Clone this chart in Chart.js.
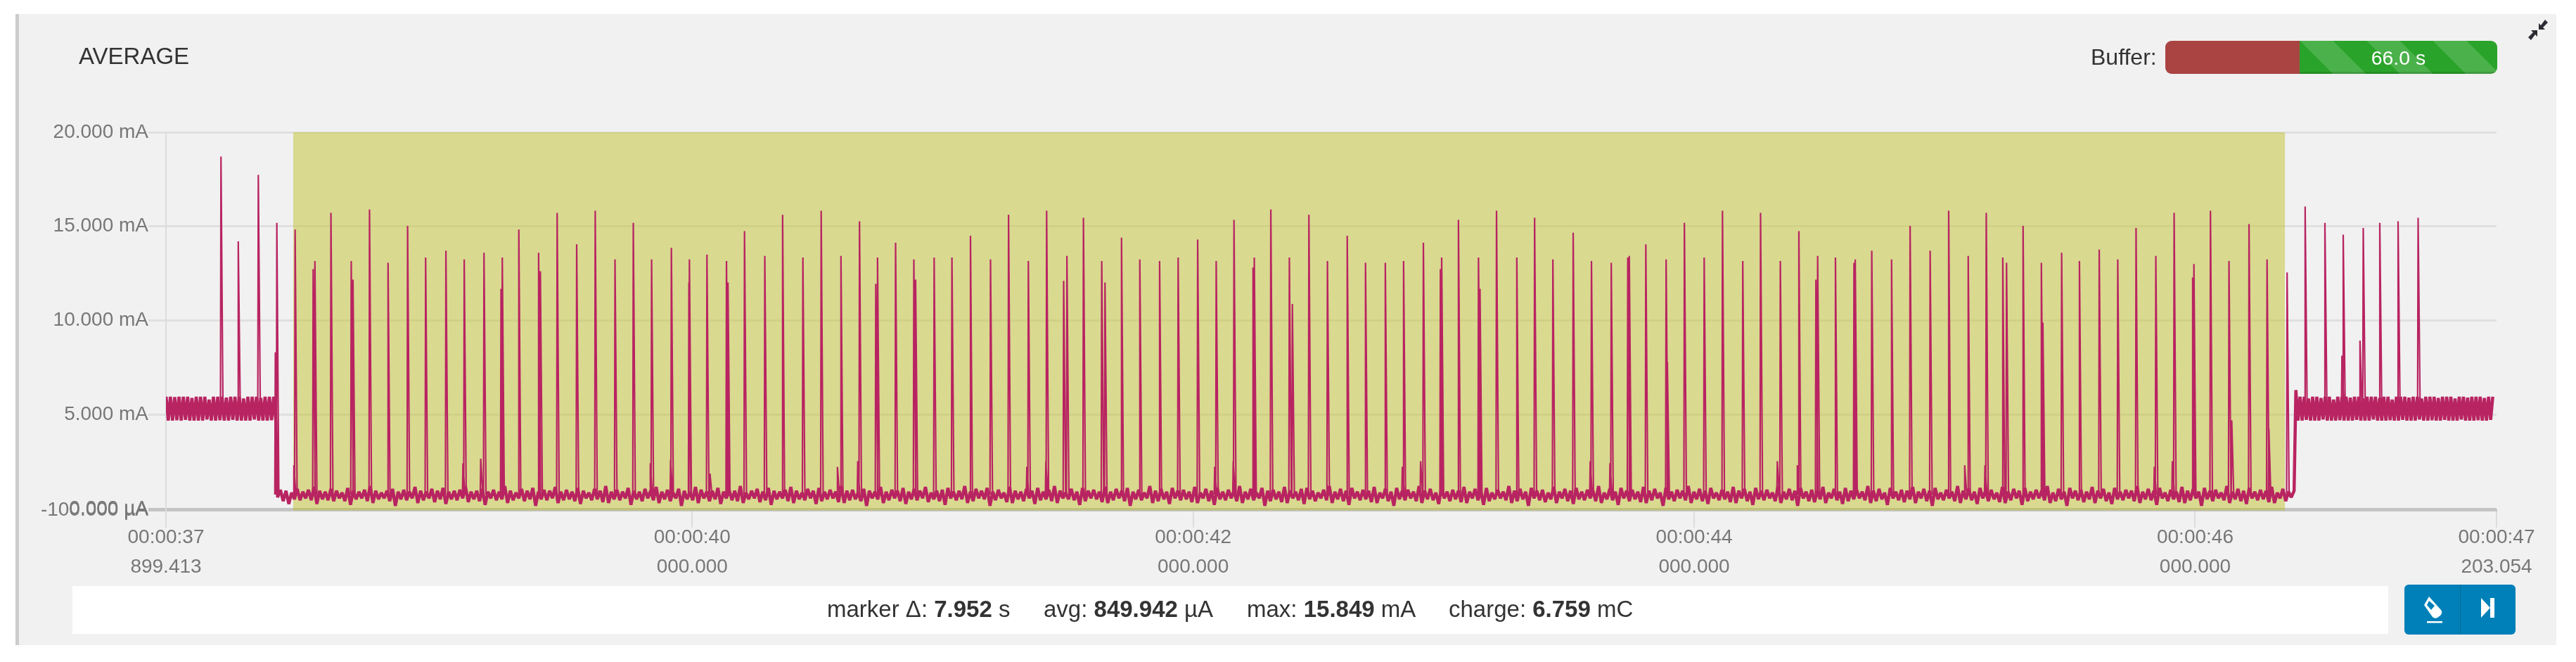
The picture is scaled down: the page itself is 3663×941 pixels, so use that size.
<!DOCTYPE html>
<html>
<head>
<meta charset="utf-8">
<title>AVERAGE</title>
<script src="https://cdn.jsdelivr.net/npm/chart.js@4"></script>
<style>
html, body { margin: 0; padding: 0; background: #fff; width: 3663px; height: 941px; overflow: hidden; }
body { font-family: "Liberation Sans", Arial, sans-serif; color: #333; position: relative; }
#panel { position: absolute; left: 22px; top: 20px; width: 3608px; height: 897px; background: #f1f1f1; border-left: 5px solid #ccc; }
#stockCanvas { position: absolute; left: 0; top: 0; }
.txt { position: absolute; white-space: nowrap; }
#bufferBar { position: absolute; left: 3079px; top: 58px; width: 472px; height: 47px; border-radius: 9px; overflow: hidden; }
#bufferRed { position: absolute; left: 0; top: 0; width: 191px; height: 100%; background: #a94442; }
#bufferGreen { position: absolute; left: 191px; top: 0; width: 281px; height: 100%; box-shadow: inset 0 -3px 0 rgba(0,0,0,.12);
  background: repeating-linear-gradient(45deg, #2aa32a 0, #2aa32a 33.5px, #4bb14b 33.5px, #4bb14b 67px); }
#bufferText { left: 3270px; width: 281px; top: 58px; line-height: 49px; text-align: center; color: #fff; font-size: 28.5px; }
#statsBar { position: absolute; left: 103px; top: 833px; width: 3293px; height: 68px; background: #fff; }
.stat { top: 833px; line-height: 66px; font-size: 33px; color: #333; }
#btns { position: absolute; left: 3419px; top: 831px; width: 158px; height: 71px; border-radius: 6px; background: #0080b8; }
#btnSep { position: absolute; left: 79px; top: 0; width: 1px; height: 100%; background: #026a99; }
</style>
</head>
<body>
<div id="panel"></div>
<div id="statsBar"></div>
<canvas id="stockCanvas" width="3663" height="941"></canvas>

<div class="txt" style="left:112px;top:61px;line-height:38px;font-size:33px;">AVERAGE</div>
<div class="txt" style="left:2973px;top:62px;line-height:38px;font-size:32px;">Buffer:</div>
<div id="bufferBar"><div id="bufferRed"></div><div id="bufferGreen"></div></div>
<div class="txt" id="bufferText">66.0 s</div>

<svg style="position:absolute;left:3594px;top:27px" width="30" height="31" viewBox="0 0 30 31">
  <path d="M16 15 L16 6 L19 9 L25 1 L29 5 L22 12 L25 15 Z" fill="#2b2b33"/>
  <path d="M14 16 L14 25 L11 22 L5 30 L1 26 L8 19 L5 16 Z" fill="#2b2b33"/>
</svg>

<div class="txt stat" style="left:1176px">marker Δ: <b>7.952</b> s</div>
<div class="txt stat" style="left:1484px">avg: <b>849.942</b> µA</div>
<div class="txt stat" style="left:1773px">max: <b>15.849</b> mA</div>
<div class="txt stat" style="left:2060px">charge: <b>6.759</b> mC</div>

<div id="btns">
  <div id="btnSep"></div>
  <svg style="position:absolute;left:27px;top:16px" width="28" height="40" viewBox="0 0 28 40">
    <path d="M8 1 L25 20 Q28 24 24 28 L20 31 Q16 33 13 30 L1 13 Z M8 7 L5 13 L11 20 L16 14 Z" fill="#fff" fill-rule="evenodd"/>
    <rect x="5" y="36" width="22" height="2.5" fill="#fff"/>
  </svg>
  <svg style="position:absolute;left:109px;top:19px" width="20" height="28" viewBox="0 0 20 28">
    <path d="M0 0 L13 14 L0 28 Z" fill="#fff"/><rect x="13" y="0" width="6" height="28" fill="#fff"/>
  </svg>
</div>

<script>
// axis ticks
const xMin = 37.899413;
const xMax = 47.203054;
const xTickValues = [37.899413, 40, 42, 44, 46, 47.203054];
const xTickTimes = ['00:00:37', '00:00:40', '00:00:42', '00:00:44', '00:00:46', '00:00:47'];
const xTickMillis = ['899.413', '000.000', '000.000', '000.000', '000.000', '203.054'];
const yTickValues = [-0.1, 0, 5, 10, 15, 20];
const yTickLabels = ['-100.000 µA', '0.000 µA', '5.000 mA', '10.000 mA', '15.000 mA', '20.000 mA'];

// selected window between the two markers
const markerStart = 38.407;
const markerEnd = 46.359;
const markerTop = 20;

// spikes while the device sits on the 5 mA band (seconds, mA)
const leadSpikeTimes = [38.119, 38.188, 38.268];
const leadSpikePeaks = [18.71, 14.21, 17.74];
const tailSpikeTimes = [46.439, 46.518, 46.586, 46.591, 46.658, 46.671, 46.737, 46.810, 46.890];
const tailSpikePeaks = [16.06, 15.19, 8.13, 14.56, 8.93, 14.92, 15.19, 15.27, 15.46];

// main spikes on the low floor
const mainSpikeTimes = [
  38.342, 38.415, 38.494, 38.558, 38.639, 38.712, 38.786, 38.864, 38.936, 39.017, 39.090, 39.169, 39.242, 39.308,
  39.387, 39.461, 39.539, 39.613, 39.692, 39.765, 39.838, 39.917, 39.989, 40.059, 40.137, 40.209, 40.290, 40.361,
  40.442, 40.515, 40.594, 40.668, 40.740, 40.812, 40.885, 40.966, 41.037, 41.111, 41.191, 41.263, 41.342, 41.415,
  41.496, 41.562, 41.635, 41.714, 41.787, 41.866, 41.940, 42.018, 42.092, 42.163, 42.244, 42.310, 42.384, 42.462,
  42.536, 42.615, 42.688, 42.767, 42.840, 42.919, 42.992, 43.059, 43.139, 43.211, 43.292, 43.363, 43.436, 43.517,
  43.590, 43.669, 43.741, 43.807, 43.888, 43.961, 44.040, 44.113, 44.194, 44.265, 44.344, 44.418, 44.493, 44.564,
  44.643, 44.709, 44.788, 44.862, 44.942, 45.016, 45.094, 45.166, 45.232, 45.247, 45.313, 45.386, 45.467, 45.538,
  45.617, 45.691, 45.764, 45.843, 45.916, 45.995, 46.061, 46.135, 46.215, 46.287, 46.367
];
const mainSpikePeaks = [
  15.19, 14.83, 13.16, 15.72, 13.16, 15.90, 13.07, 15.03, 13.35, 13.71, 13.24, 13.60, 13.35, 14.83,
  13.60, 15.72, 14.05, 15.83, 13.24, 15.19, 13.24, 13.86, 13.24, 13.50, 13.16, 14.75, 13.43, 15.62,
  13.35, 15.83, 13.43, 15.27, 13.35, 14.13, 13.24, 13.35, 13.35, 14.50, 13.24, 15.62, 13.16, 15.83,
  13.43, 15.46, 13.16, 14.40, 13.24, 13.16, 13.35, 14.30, 13.16, 15.35, 13.35, 15.90, 13.35, 15.62,
  13.16, 14.50, 13.07, 13.07, 13.16, 14.13, 13.35, 15.35, 13.35, 15.83, 13.35, 15.46, 13.24, 14.66,
  13.16, 13.07, 13.43, 14.05, 13.24, 15.19, 13.35, 15.83, 13.16, 15.72, 13.16, 14.75, 13.43, 13.35,
  13.24, 13.71, 13.24, 15.03, 13.71, 15.83, 13.43, 15.72, 13.35, 13.07, 15.03, 13.07, 13.60, 13.16,
  13.77, 13.24, 14.92, 13.43, 15.72, 13.00, 15.83, 13.16, 15.12, 13.24, 12.55
];

// smaller shoulders next to the main spikes
const shoulderTimes = [
  38.336, 38.410, 38.487, 38.646, 39.085, 39.156, 39.237, 39.394, 39.833, 39.914, 39.987, 40.071, 40.143, 40.580,
  40.661, 40.733, 40.892, 41.336, 41.412, 41.483, 41.648, 42.086, 42.160, 42.239, 42.396, 42.835, 42.908, 42.987,
  43.145, 43.585, 43.664, 43.735, 43.893, 44.332, 44.412, 44.486, 44.638, 45.080, 45.161, 45.392, 45.837, 45.909,
  45.990, 46.146, 46.294
];
const shoulderPeaks = [
  8.31, 2.31, 12.73, 12.17, 2.41, 2.65, 11.68, 12.62, 2.41, 2.59, 12.02, 1.87, 12.02, 2.22,
  2.52, 11.94, 12.17, 2.22, 2.52, 12.10, 12.02, 2.22, 2.52, 12.81, 10.88, 2.22, 2.52, 12.73,
  11.68, 2.52, 2.41, 13.35, 7.79, 2.52, 2.31, 12.17, 13.07, 2.31, 2.31, 9.89, 2.22, 2.52,
  12.28, 4.69, 4.26
];

// band before the drop, evenly sampled
const leadStart = 37.9;
const leadEnd = 38.338;
const leadBand = [
  5.95, 4.68, 5.95, 4.68, 5.93, 4.70, 5.95, 4.68, 5.95, 4.72, 5.95, 4.68, 5.88, 4.68, 5.95, 4.68, 5.95, 4.68,
  5.95, 4.74, 5.80, 4.68, 5.95, 4.68, 5.95, 4.70, 5.95, 4.68, 5.90, 4.68, 5.95, 4.72, 5.95, 4.68, 5.95, 4.68,
  5.85, 4.68, 5.95, 4.68, 5.95, 4.74, 5.95, 4.68, 5.88, 4.68, 5.95, 4.68, 5.95, 4.70, 5.95, 4.68
];

// low floor between drop and rise, evenly sampled
const floorStart = 38.345;
const floorEnd = 46.395;
const floorBand = [
  0.60, 1.00, 0.40, 0.95, 0.25, 0.85, 0.50, 1.05, 0.45, 0.90, 0.55, 1.00, 0.45, 1.15, 0.25, 0.95, 0.50, 0.90, 0.45, 1.05, 0.40, 0.95, 0.55, 0.85,
  0.40, 1.10, 0.20, 0.95, 0.50, 0.90, 0.55, 1.00, 0.40, 1.20, 0.30, 0.95, 0.50, 0.85, 0.55, 0.95, 0.40, 1.05, 0.15, 0.90, 0.50, 1.00, 0.45, 0.90,
  0.55, 1.15, 0.30, 0.95, 0.45, 0.90, 0.55, 1.05, 0.35, 0.95, 0.50, 1.10, 0.25, 0.90, 0.50, 0.95, 0.45, 1.00, 0.55, 1.15, 0.35, 0.90, 0.50, 0.95,
  0.40, 1.05, 0.20, 0.90, 0.55, 1.00, 0.45, 0.90, 0.50, 1.20, 0.30, 0.95, 0.45, 0.85, 0.55, 1.05, 0.40, 0.95, 0.50, 1.10, 0.15, 0.90, 0.50, 1.00,
  0.45, 0.95, 0.55, 1.15, 0.30, 0.90, 0.45, 1.00, 0.50, 0.90, 0.40, 1.10, 0.25, 0.95, 0.55, 0.85, 0.45, 1.05, 0.50, 0.95, 0.35, 1.20, 0.30, 0.90,
  0.50, 1.00, 0.45, 0.90, 0.55, 1.10, 0.20, 0.95, 0.50, 0.90, 0.40, 1.05, 0.55, 0.95, 0.45, 1.15, 0.30, 0.90, 0.50, 1.00, 0.40, 0.85, 0.55, 1.05,
  0.15, 0.95, 0.50, 0.90, 0.45, 1.15, 0.30, 1.00, 0.55, 0.90, 0.40, 0.95, 0.50, 1.10, 0.25, 0.90, 0.55, 1.00, 0.45, 0.95, 0.40, 1.20, 0.30, 0.85,
  0.50, 0.95, 0.55, 1.05, 0.35, 0.90, 0.45, 1.10, 0.20, 0.95, 0.50, 0.90, 0.55, 1.00, 0.40, 1.15, 0.30, 0.95, 0.50, 0.85, 0.45, 1.05, 0.55, 0.95,
  0.25, 1.10, 0.40, 0.90, 0.50, 1.00, 0.55, 0.90, 0.35, 1.20, 0.30, 0.95, 0.45, 1.00, 0.50, 0.85, 0.40, 1.05, 0.15, 0.95, 0.55, 0.90, 0.50, 1.15,
  0.30, 0.90, 0.45, 1.00, 0.55, 0.95, 0.40, 1.10, 0.25, 0.90, 0.50, 1.05, 0.45, 0.95, 0.55, 1.15, 0.35, 0.85, 0.50, 0.95, 0.40, 1.00, 0.20, 1.10,
  0.55, 0.90, 0.45, 0.95, 0.50, 1.20, 0.30, 0.90, 0.40, 1.05, 0.55, 0.95, 0.50, 1.10, 0.15, 0.90, 0.45, 1.00, 0.55, 0.85, 0.35, 1.15, 0.30, 0.95,
  0.50, 0.90, 0.40, 1.05, 0.55, 0.95, 0.25, 1.10, 0.45, 0.90, 0.50, 1.00, 0.40, 1.20, 0.30, 0.95, 0.55, 0.85, 0.50, 1.05, 0.45, 0.90, 0.20, 1.10,
  0.40, 0.95, 0.55, 1.00, 0.50, 0.90, 0.35, 1.15, 0.30, 0.90, 0.45, 1.05, 0.55, 0.95, 0.40, 1.10, 0.15, 0.90, 0.50, 1.00, 0.45, 0.85, 0.55, 1.20,
  0.30, 0.95, 0.40, 1.05, 0.50, 0.90, 0.25, 1.10, 0.55, 0.95, 0.45, 1.00, 0.50, 0.90, 0.35, 1.15, 0.30, 0.85, 0.55, 1.05, 0.40, 0.95, 0.20, 1.10,
  0.50, 0.90, 0.45, 1.00, 0.55, 0.95, 0.40, 1.20, 0.30, 0.90, 0.50, 1.05, 0.45, 0.85, 0.55, 1.10, 0.15, 0.95, 0.40, 1.00, 0.50, 0.90, 0.35, 1.15,
  0.30, 0.95, 0.55, 0.90, 0.45, 1.05, 0.25, 1.10, 0.50, 0.95, 0.40, 0.85, 0.55, 1.00, 0.45, 1.20, 0.30, 0.90, 0.50, 1.05, 0.40, 0.95, 0.20, 1.10,
  0.55, 0.90, 0.45, 1.00, 0.50, 0.95, 0.35, 1.15, 0.30, 0.85, 0.55, 1.05, 0.40, 0.90, 0.15, 1.10, 0.50, 0.95, 0.45, 1.00, 0.55, 0.90, 0.40, 1.20,
  0.30, 0.95, 0.50, 1.05, 0.45, 0.85, 0.25, 1.10, 0.55, 0.90, 0.40, 1.00, 0.50, 0.95, 0.35, 1.15, 0.30, 0.90, 0.55, 1.05, 0.45, 0.95, 0.20, 1.10,
  0.40, 0.85, 0.50, 1.00, 0.55, 0.90, 0.45, 1.20, 0.30, 0.95, 0.40, 1.05, 0.50, 0.90, 0.15, 1.10, 0.55, 0.95, 0.45, 1.00, 0.35, 0.85, 0.50, 1.15,
  0.30, 0.90, 0.55, 1.05, 0.40, 0.95, 0.25, 1.10, 0.50, 0.90, 0.45, 1.00, 0.55, 0.95, 0.40, 1.20, 0.30, 0.85, 0.50, 1.05, 0.45, 0.90, 0.20, 1.10,
  0.55, 0.95, 0.40, 1.00, 0.50, 0.90, 0.35, 1.15, 0.30, 0.95, 0.45, 1.05, 0.55, 0.85, 0.15, 1.10, 0.50, 0.90, 0.40, 1.00, 0.55, 0.95, 0.45, 1.20,
  0.30, 0.90, 0.50, 1.05, 0.40, 0.95, 0.25, 1.10, 0.55, 0.85, 0.45, 1.00, 0.50, 0.90, 0.35, 1.15, 0.30, 0.95, 0.55, 1.05, 0.40, 0.90, 0.20, 1.10,
  0.50, 0.95, 0.45, 1.00, 0.55, 0.85, 0.40, 1.20, 0.30, 0.90, 0.50, 1.05, 0.45, 0.95, 0.15, 1.10, 0.55, 0.90, 0.40, 1.00, 0.35, 0.95, 0.50, 1.15,
  0.30, 0.85, 0.55, 1.05, 0.45, 0.90, 0.25, 1.10, 0.40, 0.95, 0.50, 1.00, 0.55, 0.90, 0.45, 1.20, 0.30, 0.95, 0.40, 1.05, 0.50, 0.85, 0.20, 1.10,
  0.55, 0.90, 0.45, 1.00, 0.35, 0.95, 0.50, 1.15, 0.30, 0.90, 0.55, 1.05, 0.40, 0.95, 0.15, 1.10, 0.50, 0.85, 0.45, 1.00, 0.55, 0.90, 0.40, 1.20,
  0.30, 0.95, 0.50, 1.05, 0.45, 0.90, 0.25, 1.10, 0.55, 0.95, 0.40, 1.00, 0.50, 0.85, 0.35, 1.15, 0.30, 0.90, 0.45, 1.05, 0.55, 0.95, 0.20, 1.10,
  0.40, 0.90, 0.50, 1.00, 0.55, 0.95, 0.45, 1.20, 0.30, 0.85, 0.40, 1.05, 0.50, 0.90, 0.15, 1.10, 0.55, 0.95, 0.45, 1.00, 0.35, 0.90, 0.50, 1.15,
  0.30, 0.95, 0.55, 1.05, 0.40, 0.85, 0.25, 1.10, 0.50, 0.90, 0.45, 1.00, 0.55, 0.95, 0.40, 1.20, 0.30, 0.90, 0.50, 1.05, 0.45, 0.95, 0.20, 1.10,
  0.55, 0.85, 0.40, 1.00, 0.50, 0.90, 0.35, 1.15, 0.30, 0.95, 0.45, 1.05, 0.55, 0.90, 0.15, 1.10, 0.50, 0.95, 0.40, 1.00, 0.55, 0.85, 0.45, 1.20,
  0.30, 0.90, 0.50, 1.05, 0.40, 0.95, 0.25, 1.10, 0.55, 0.90, 0.45, 1.00, 0.50, 0.95, 0.35, 1.15, 0.30, 0.85, 0.55, 1.05, 0.40, 0.90, 0.60, 0.95
];

// band after the rise, evenly sampled
const tailStart = 46.402;
const tailEnd = 47.188;
const tailBand = [
  6.30, 4.68, 5.95, 4.68, 5.95, 4.72, 5.85, 4.68, 5.95, 4.68, 5.95, 4.68, 5.88, 4.74, 5.95, 4.68, 5.95, 4.68, 5.80, 4.68,
  5.95, 4.70, 5.95, 4.68, 5.95, 4.68, 5.90, 4.68, 5.95, 4.72, 5.95, 4.68, 5.85, 4.68, 5.95, 4.68, 5.95, 4.74, 5.95, 4.68,
  5.88, 4.68, 5.95, 4.68, 5.95, 4.70, 5.80, 4.68, 5.95, 4.68, 5.95, 4.72, 5.95, 4.68, 5.90, 4.68, 5.95, 4.68, 5.95, 4.74,
  5.85, 4.68, 5.95, 4.68, 5.95, 4.70, 5.95, 4.68, 5.88, 4.68, 5.95, 4.72, 5.95, 4.68, 5.95, 4.68, 5.85, 4.68, 5.95, 4.74,
  5.95, 4.68, 5.90, 4.68, 5.95, 4.68, 5.95, 4.70, 5.95, 4.68, 5.88, 4.68, 5.95, 4.72, 5.95
];

const traceColor = 'rgb(184,36,97)';
const floorValue = 0.75;
const bandValue = 5.3;

function sampled(values, start, end) {
  return values.map((v, i) => ({ x: start + i * (end - start) / (values.length - 1), y: v }));
}

const bandPoints = [
  ...sampled(leadBand, leadStart, leadEnd),
  ...sampled(floorBand, floorStart, floorEnd),
  ...sampled(tailBand, tailStart, tailEnd)
];

const spikePoints = [];
function addSpikes(times, peaks, base) {
  times.forEach((t, i) => {
    spikePoints.push({ x: t - 0.002, y: base }, { x: t, y: peaks[i] }, { x: t + 0.008, y: base }, { x: t + 0.008, y: null });
  });
}
addSpikes(leadSpikeTimes, leadSpikePeaks, bandValue);
addSpikes(tailSpikeTimes, tailSpikePeaks, bandValue);
addSpikes(mainSpikeTimes, mainSpikePeaks, floorValue);
addSpikes(shoulderTimes, shoulderPeaks, floorValue);

const ctx = document.getElementById('stockCanvas').getContext('2d');
const chart = new Chart(ctx, {
  type: 'line',
  data: {
    datasets: [
      {
        label: 'marker',
        data: [{ x: markerStart, y: markerTop }, { x: markerEnd, y: markerTop }],
        borderWidth: 0,
        pointRadius: 0,
        backgroundColor: 'rgba(187,187,20,0.44)',
        fill: 'start',
        order: 3
      },
      {
        label: 'band',
        data: bandPoints,
        borderColor: traceColor,
        borderWidth: 4.5,
        borderJoinStyle: 'bevel',
        pointRadius: 0,
        fill: false,
        tension: 0,
        order: 2
      },
      {
        label: 'spikes',
        data: spikePoints,
        borderColor: traceColor,
        borderWidth: 2.2,
        borderJoinStyle: 'bevel',
        pointRadius: 0,
        fill: false,
        tension: 0,
        spanGaps: false,
        order: 1
      }
    ]
  },
  options: {
    responsive: false,
    animation: false,
    events: [],
    layout: { padding: { top: 188, right: 113, left: 0, bottom: 0 } },
    plugins: { legend: { display: false }, tooltip: { enabled: false } },
    scales: {
      x: {
        type: 'linear',
        min: xMin,
        max: xMax,
        afterFit: (s) => { s.height = 215.3; },
        afterBuildTicks: (s) => { s.ticks = xTickValues.map((v) => ({ value: v })); },
        grid: { drawOnChartArea: false, drawTicks: true, tickLength: 24, tickColor: '#dcdcdc', lineWidth: 2 },
        border: { display: true, color: '#c4c4c4', width: 3 },
        ticks: {
          autoSkip: false,
          maxRotation: 0,
          padding: -6,
          color: '#777',
          font: { family: '"Liberation Sans", Arial, sans-serif', size: 28, lineHeight: 1.5 },
          callback: (v, i) => [xTickTimes[i], xTickMillis[i]]
        }
      },
      y: {
        type: 'linear',
        min: -0.1,
        max: 20,
        afterFit: (s) => { s.width = 236; },
        afterBuildTicks: (s) => { s.ticks = yTickValues.map((v) => ({ value: v })); },
        grid: {
          tickLength: 25,
          lineWidth: 3,
          color: (c) => (c.tick && c.tick.value <= 0 ? '#c4c4c4' : '#e0e0e0'),
          tickColor: (c) => (c.tick && c.tick.value <= 0 ? '#c4c4c4' : '#e0e0e0')
        },
        border: { display: true, color: '#dcdcdc', width: 2 },
        ticks: {
          autoSkip: false,
          padding: 0,
          color: '#777',
          font: { family: '"Liberation Sans", Arial, sans-serif', size: 28 },
          callback: (v, i) => yTickLabels[i]
        }
      }
    }
  }
});
</script>
</body>
</html>
